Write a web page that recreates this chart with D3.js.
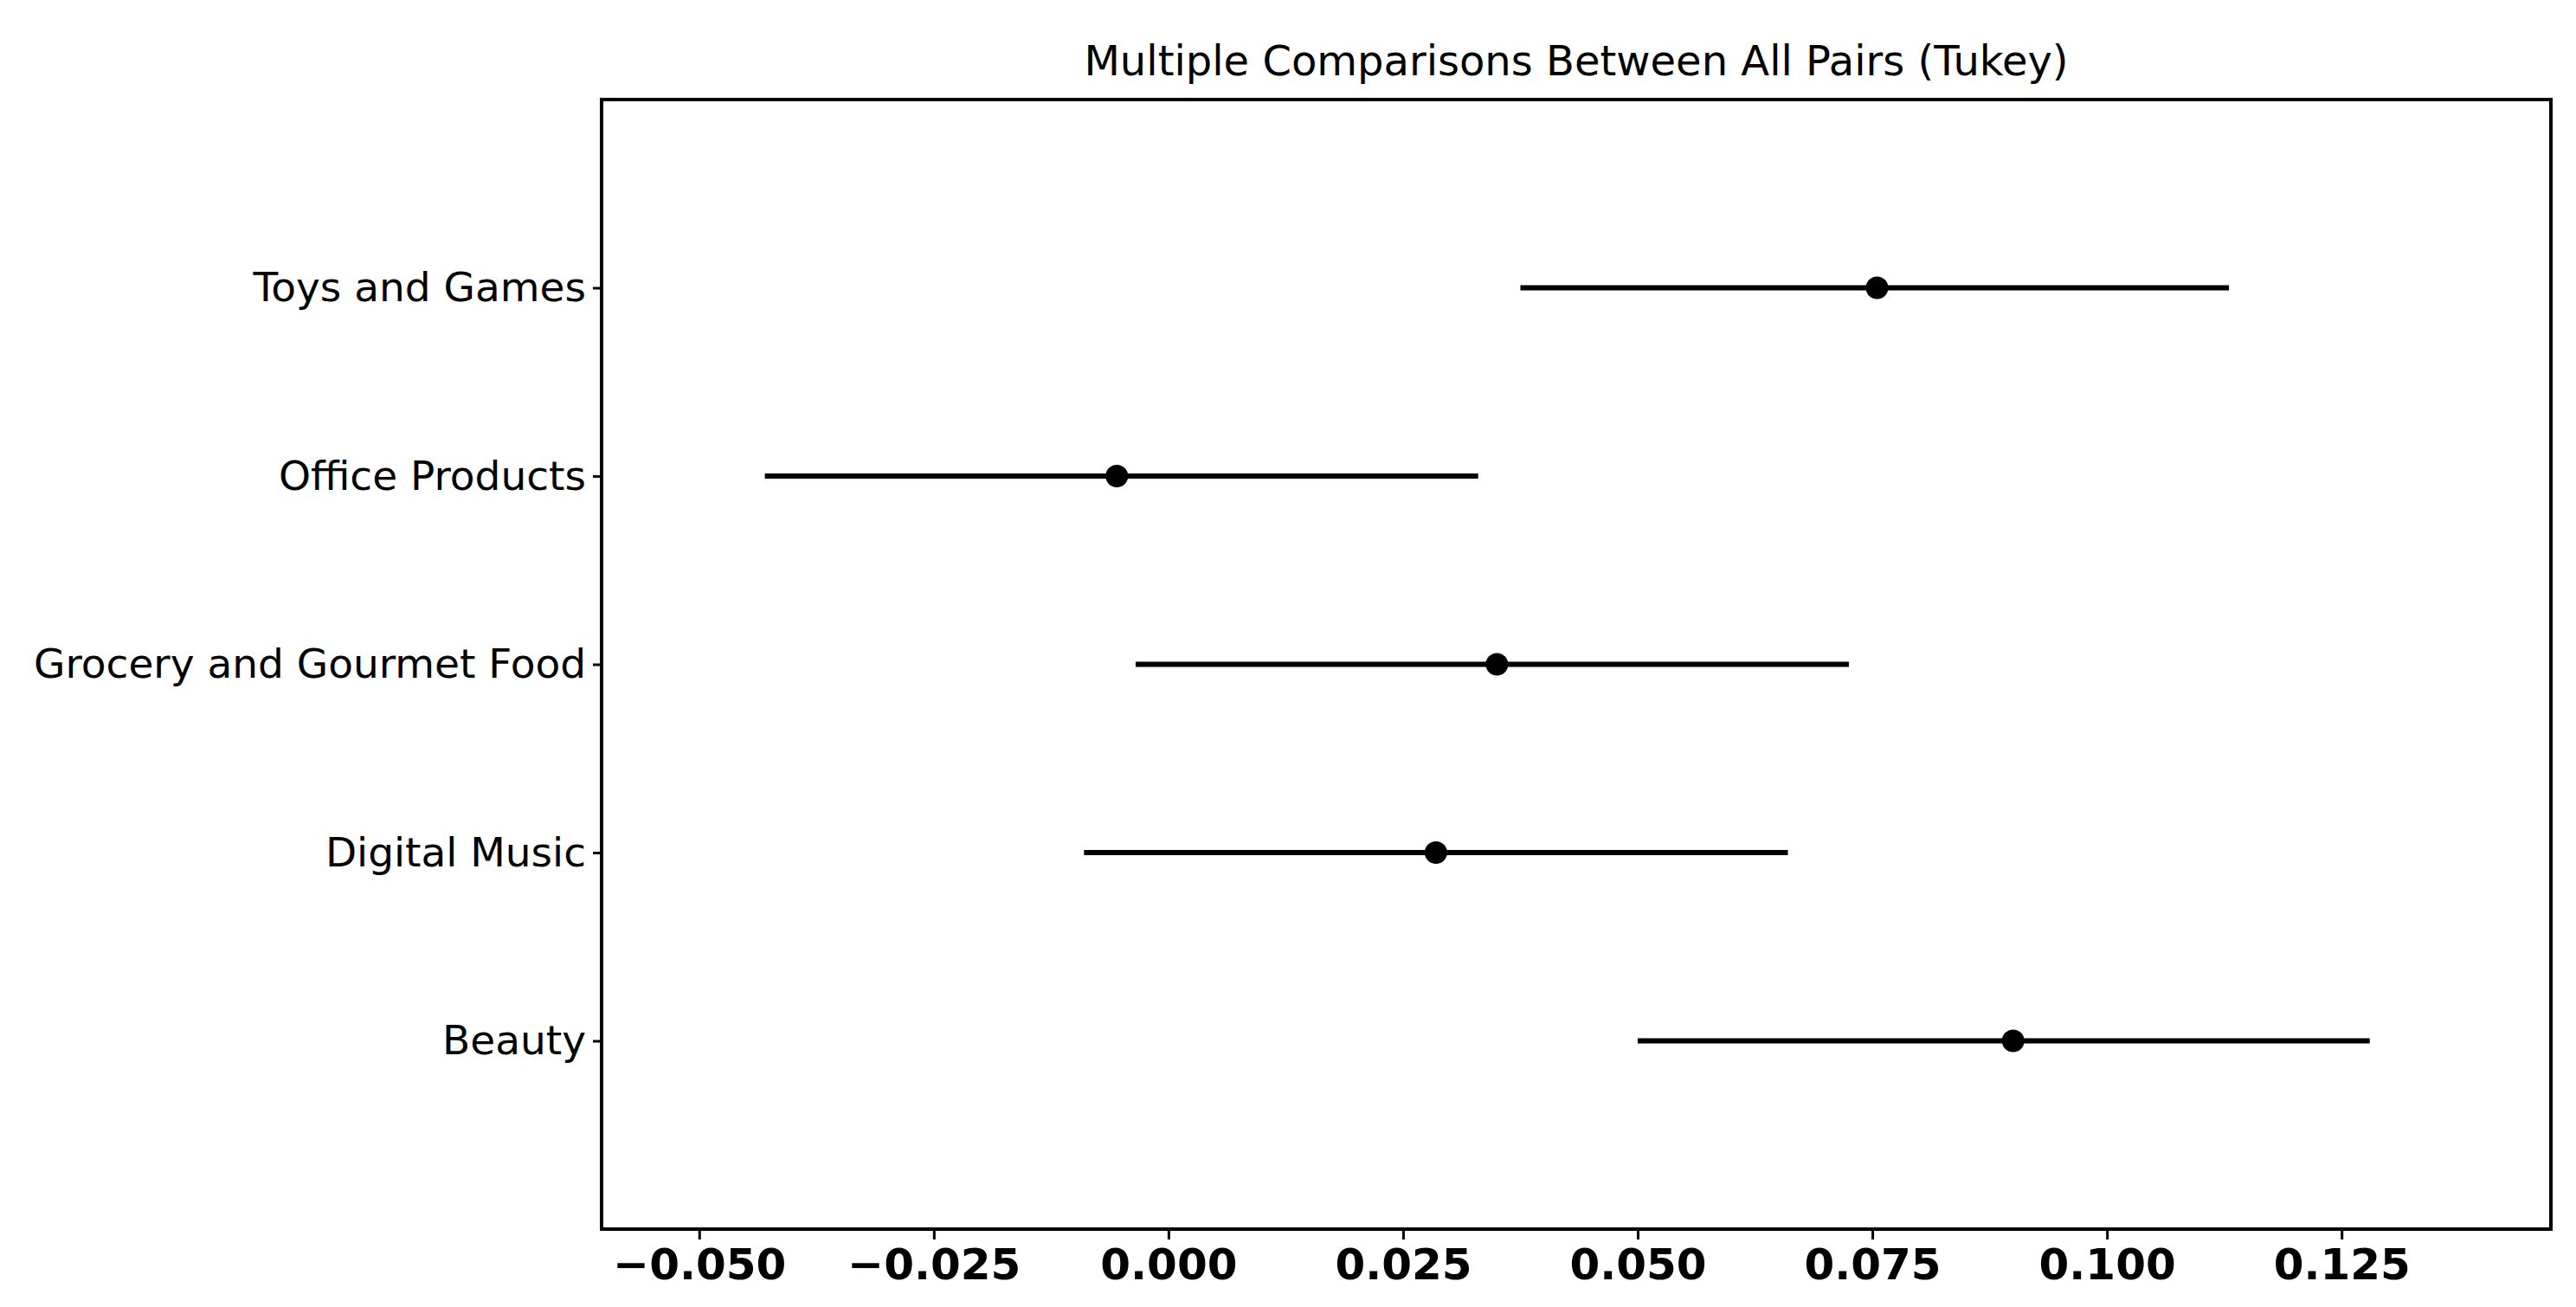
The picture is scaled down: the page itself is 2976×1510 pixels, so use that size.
<!doctype html>
<html>
<head>
<meta charset="utf-8">
<script src="https://d3js.org/d3.v7.min.js"></script>
<style>body{margin:0;background:#fff}</style>
</head>
<body>
<svg id="chart" width="2976" height="1510"></svg>
<script>
var categories = ['Beauty', 'Digital Music', 'Grocery and Gourmet Food', 'Office Products', 'Toys and Games']
var means = [0.090, 0.0285, 0.035, -0.0055, 0.0755]
var lower = [0.050, -0.009, -0.0035, -0.043, 0.0375]
var upper = [0.128, 0.066, 0.0725, 0.033, 0.113]
var xTicks = [-0.050, -0.025, 0.000, 0.025, 0.050, 0.075, 0.100, 0.125]

var L = 695, R = 2947, T = 115, B = 1420
var svg = d3.select('#chart')
var x = d3.scaleLinear().domain([-0.0604, 0.1473]).range([L, R])
var y = d3.scaleLinear().domain([-1, 5]).range([B, T])

svg.append('g').attr('transform', 'translate(0,' + B + ')')
    .call(d3.axisBottom(x).tickValues(xTicks).tickSize(12).tickPadding(10)
        .tickFormat(d => d3.format('.3f')(d).replace('-', '\u2212')))
    .call(g => g.selectAll('text').attr('font-size', 50).attr('font-weight', 'bold').attr('font-family', 'DejaVu Sans'))
svg.append('g').attr('transform', 'translate(' + L + ',0)')
    .call(d3.axisLeft(y).tickValues(d3.range(categories.length)).tickSize(10).tickPadding(8)
        .tickFormat(i => categories[i]))
    .call(g => g.selectAll('text').attr('font-size', 47).attr('font-family', 'DejaVu Sans'))
svg.selectAll('.domain').remove()
svg.selectAll('.tick line').attr('stroke-width', 3)
svg.append('rect').attr('x', L).attr('y', T).attr('width', R - L).attr('height', B - T)
    .attr('fill', 'none').attr('stroke', '#000').attr('stroke-width', 4)

svg.selectAll('line.ci').data(categories).enter().append('line')
    .attr('x1', (d, i) => x(lower[i])).attr('x2', (d, i) => x(upper[i]))
    .attr('y1', (d, i) => y(i)).attr('y2', (d, i) => y(i))
    .attr('stroke', '#000').attr('stroke-width', 6)
svg.selectAll('circle').data(categories).enter().append('circle')
    .attr('cx', (d, i) => x(means[i])).attr('cy', (d, i) => y(i)).attr('r', 13).attr('fill', '#000')

svg.append('text').attr('x', (L + R) / 2).attr('y', T - 28).attr('text-anchor', 'middle')
    .attr('font-size', 48).attr('font-family', 'DejaVu Sans')
    .text('Multiple Comparisons Between All Pairs (Tukey)')
</script>
</body>
</html>
